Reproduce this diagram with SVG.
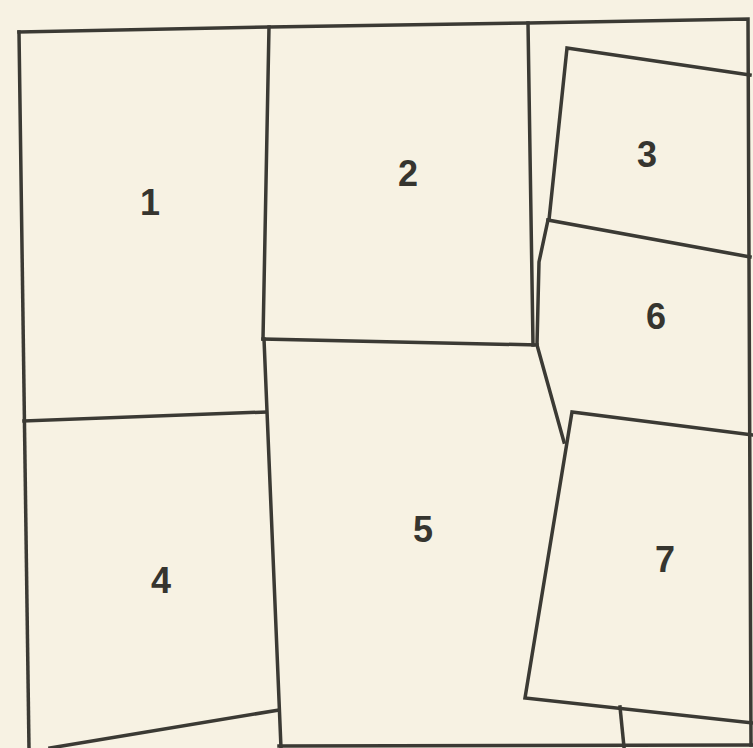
<svg xmlns="http://www.w3.org/2000/svg" width="753" height="748" viewBox="0 0 753 748">
<style>
.ln{fill:none;stroke:#3b3a34;stroke-width:3.5;stroke-linejoin:miter;stroke-linecap:square}
.lb{font-family:"Liberation Sans",Arial,sans-serif;font-weight:bold;font-size:36px;fill:#36352f;text-anchor:middle}
</style>
<rect x="0" y="0" width="753" height="748" fill="#f7f2e3"/>
<g id="frame">
<polyline class="ln" points="19,32 269,27 528,23 748,19 751,745"/>
<line class="ln" x1="19" y1="32" x2="29" y2="748"/>
<line class="ln" x1="279" y1="746" x2="753" y2="745"/>
</g>
<g id="piece1">
<line class="ln" x1="24" y1="421" x2="266" y2="412"/>
<line class="ln" x1="269" y1="27" x2="263" y2="339"/>
<text class="lb" x="150" y="215">1</text>
</g>
<g id="piece2">
<line class="ln" x1="528" y1="23" x2="533" y2="345"/>
<line class="ln" x1="263" y1="339" x2="537" y2="345"/>
<text class="lb" x="408" y="186">2</text>
</g>
<g id="piece4">
<line class="ln" x1="50" y1="748" x2="279" y2="710"/>
<text class="lb" x="161" y="593">4</text>
</g>
<g id="piece5">
<line class="ln" x1="264" y1="339" x2="281" y2="748"/>
<line class="ln" x1="620" y1="707" x2="624" y2="747"/>
<text class="lb" x="423" y="542">5</text>
</g>
<g id="piece3">
<polyline class="ln" points="549,220 567,48 750,75"/>
<line class="ln" x1="548" y1="220" x2="750" y2="257"/>
<text class="lb" x="647" y="167">3</text>
</g>
<g id="piece6">
<polyline class="ln" points="548,220 539,262 537,345 564,442"/>
<text class="lb" x="656" y="329">6</text>
</g>
<g id="piece7">
<polyline class="ln" points="753,435 572,412 525,698 753,723"/>
<text class="lb" x="665" y="572">7</text>
</g>
</svg>
